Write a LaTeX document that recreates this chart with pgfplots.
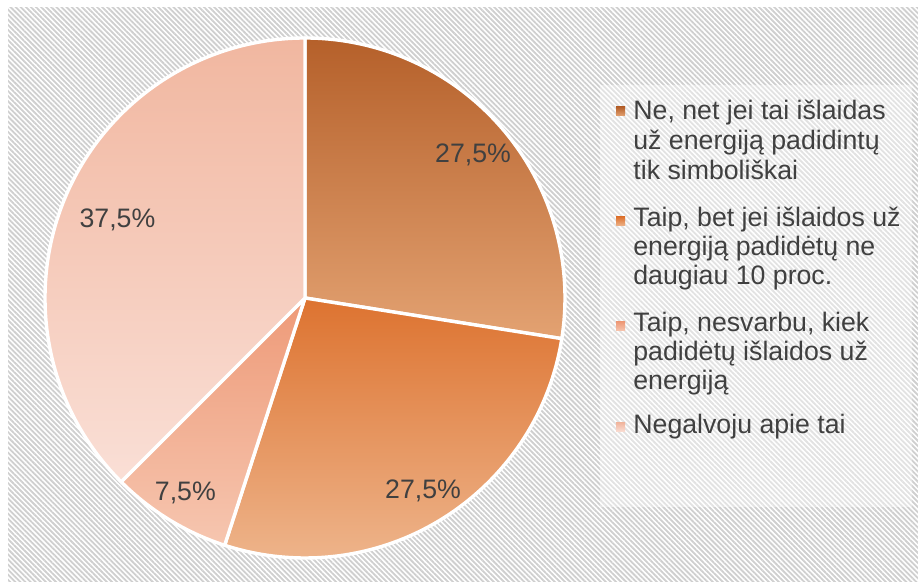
\documentclass[border=0pt]{standalone}
\usepackage{pgfplots}
\pgfplotsset{compat=1.18}
\usepackage{pgfplotstable}
\usepackage{fontspec}
\setmainfont{Liberation Sans}
\usetikzlibrary{patterns.meta}

% shares in %, label distance from centre (px of the 918x582 picture)
\pgfplotstableread{
share lr
27.5  221
27.5  226
7.5   229
37.5  203
}\piedata

\definecolor{txt}{HTML}{404040}
\definecolor{t0}{HTML}{B5602A}\definecolor{b0}{HTML}{E3A272}
\definecolor{t1}{HTML}{DD7330}\definecolor{b1}{HTML}{EEB58C}
\definecolor{t2}{HTML}{EE9A78}\definecolor{b2}{HTML}{F6C6B0}
\definecolor{t3}{HTML}{F1B7A0}\definecolor{b3}{HTML}{FADFD6}
\definecolor{hatch}{HTML}{CFCFCF}

\newcommand\lfont{\fontsize{13.4}{15}\selectfont}

\begin{document}
\begin{tikzpicture}
\begin{axis}[
    x=0.5bp, y=0.5bp,
    xmin=0, xmax=918, ymin=0, ymax=582,
    hide axis, clip=false,
]
% background
\fill[white] (axis cs:0,0) rectangle (axis cs:918,582);
\fill[pattern={Lines[angle=-45,distance=1.8bp,line width=0.9bp]}, pattern color=hatch]
    (axis cs:8,0) rectangle (axis cs:918,574);
\fill[white, opacity=0.4] (axis cs:600,75) rectangle (axis cs:912,497);

% pie slices, clockwise from 12 o'clock
\xdef\startang{90}
\pgfplotsinvokeforeach{0,...,3}{
  \pgfplotstablegetelem{#1}{share}\of\piedata \let\val\pgfplotsretval
  \pgfplotstablegetelem{#1}{lr}\of\piedata \let\lr\pgfplotsretval
  \pgfmathsetmacro{\endang}{\startang-3.6*\val}
  \pgfmathsetmacro{\midang}{(\startang+\endang)/2}
  \edef\doslice{%
    \noexpand\path[top color=t#1, bottom color=b#1, draw=white, line width=1.7bp, line join=round]
      (axis cs:305,284) -- ++(\startang:130bp)
      arc[start angle=\startang, end angle=\endang, radius=130bp] -- cycle;
    \noexpand\node[txt, font=\noexpand\lfont, inner sep=0]
      at ([shift={(\midang:{\lr*0.5bp})}]axis cs:305,284)
      {\noexpand\pgfmathprintnumber[fixed, fixed zerofill, precision=1, use comma, assume math mode=true]{\val}\noexpand\%};
  }%
  \doslice
  \xdef\startang{\endang}
}

% legend
\path[top color=t0, bottom color=b0] (axis cs:616,466) rectangle (axis cs:625,475);
\path[top color=t1, bottom color=b1] (axis cs:616,356) rectangle (axis cs:625,365);
\path[top color=t2, bottom color=b2] (axis cs:616,251) rectangle (axis cs:625,260);
\path[top color=t3, bottom color=b3] (axis cs:616,150) rectangle (axis cs:625,159);
\begin{scope}[every node/.style={anchor=base west, inner sep=0, txt, font=\lfont}]
\node at (axis cs:633,462) {Ne, net jei tai išlaidas};
\node at (axis cs:633,432) {už energiją padidintų};
\node at (axis cs:633,402) {tik simboliškai};
\node at (axis cs:633,355) {Taip, bet jei išlaidos už};
\node at (axis cs:633,326) {energiją padidėtų ne};
\node at (axis cs:633,297) {daugiau 10 proc.};
\node at (axis cs:633,250) {Taip, nesvarbu, kiek};
\node at (axis cs:633,221) {padidėtų išlaidos už};
\node at (axis cs:633,192) {energiją};
\node at (axis cs:633,148) {Negalvoju apie tai};
\end{scope}
\end{axis}
\end{tikzpicture}
\end{document}
